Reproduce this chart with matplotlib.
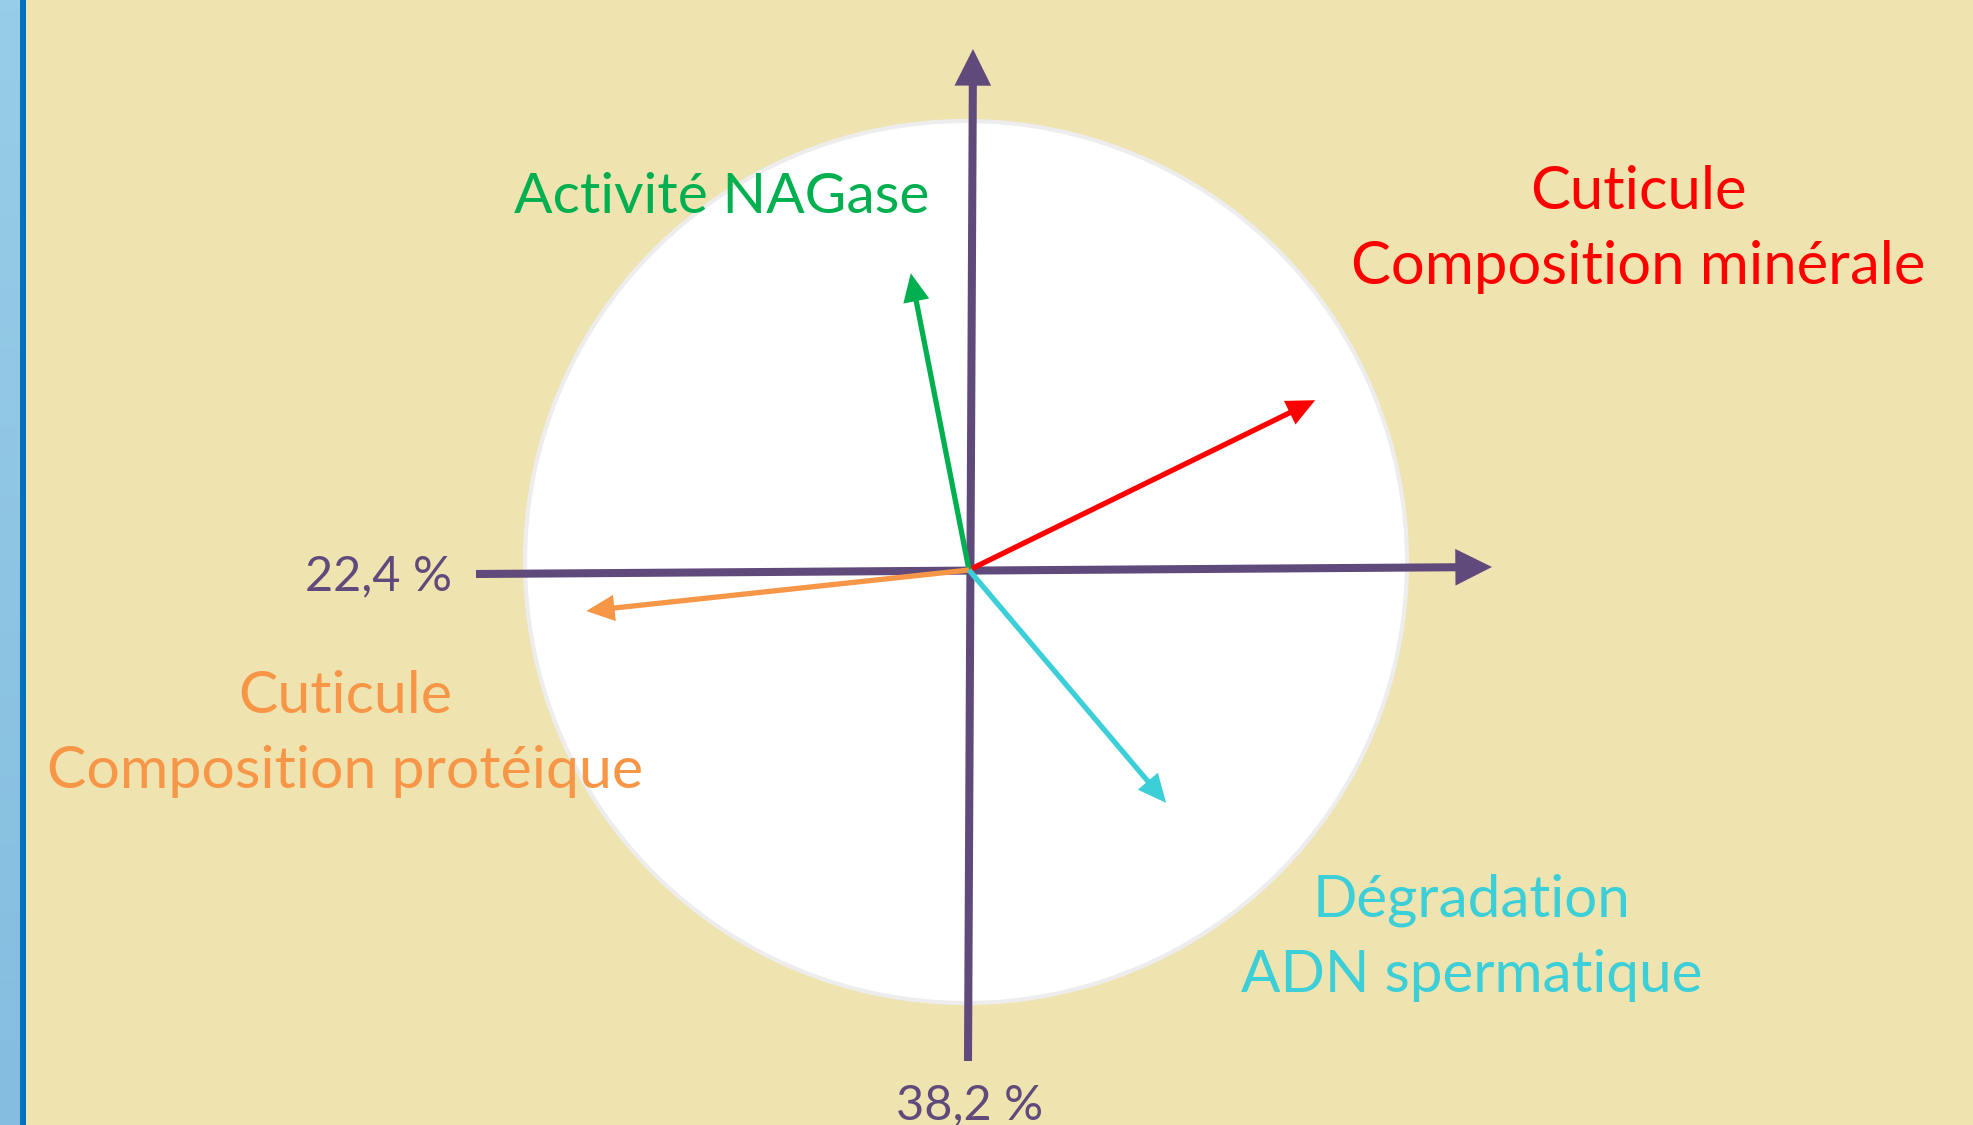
import numpy as np
import matplotlib.pyplot as plt
from matplotlib.patches import Circle, FancyArrowPatch
from matplotlib.colors import LinearSegmentedColormap

plt.rcParams['font.family'] = ['Lato', 'DejaVu Sans']

# -----------------------------
# Data: variable loadings on the correlation circle
# -----------------------------
var_lines = [
    ['Cuticule', 'Composition minérale'],
    ['Activité NAGase'],
    ['Cuticule', 'Composition protéique'],
    ['Dégradation', 'ADN spermatique'],
]
dim_h = [0.785, -0.132, -0.868, 0.447]   # horizontal axis loading
dim_v = [0.385, 0.673, -0.093, -0.528]   # vertical axis loading
var_colors = ['#FF0000', '#00B050', '#F79646', '#3CCFD8']

axis_labels = ['22,4 %', '38,2 %']

# -----------------------------
# Layout (pixels of the 1973x1125 image)
# -----------------------------
W, H = 1973, 1125
CX, CY, R = 969, 570, 441


def px(x, y):
    return (x - CX) / R, (CY - y) / R


bg = '#EFE3B0'
purple = '#604A7B'

fig = plt.figure(figsize=(W / 100, H / 100), dpi=100)
fig.patch.set_facecolor(bg)
ax = fig.add_axes([0, 0, 1, 1])
ax.set_facecolor(bg)
ax.axis('off')

# left blue border
grad = np.linspace(0, 1, 100).reshape(-1, 1)
cm = LinearSegmentedColormap.from_list('b', ['#98CDE7', '#84BDE0'])
x0, y0 = px(0, 0)
x1, y1 = px(20, H)
ax.imshow(grad, cmap=cm, extent=[x0, x1, y1, y0], aspect='auto', zorder=0)
xa, _ = px(20, 0)
xb, _ = px(25.5, 0)
ax.axvspan(xa, xb, color='#0070C0', zorder=1, lw=0)
ax.set_xlim(px(0, 0)[0], px(W, 0)[0])
ax.set_ylim(px(0, H)[1], px(0, 0)[1])

# correlation circle
ax.add_patch(Circle(px(966, 562), 1.0, facecolor='white', edgecolor='#EDEDED',
                    lw=3, zorder=2))

# axes arrows
for start, end in [(px(476, 574), px(1492, 567)), (px(968, 1061), px(973, 49))]:
    ax.add_patch(FancyArrowPatch(start, end,
                                 arrowstyle='-|>,head_length=17,head_width=8.5',
                                 mutation_scale=1, lw=5.8, color=purple,
                                 shrinkA=0, shrinkB=0, zorder=3,
                                 joinstyle='miter', capstyle='butt'))

# variable arrows
for h, v, c in zip(dim_h, dim_v, var_colors):
    ax.add_patch(FancyArrowPatch((0, 0), (h, v),
                                 arrowstyle='-|>,head_length=14,head_width=6.5',
                                 mutation_scale=1, lw=3.8, color=c,
                                 shrinkA=0, shrinkB=0, zorder=4,
                                 joinstyle='miter', capstyle='butt'))

# variable labels (centre x, first baseline y in pixels, font size)
label_pos = [(1638, 209, 43), (722, 213, 41), (345, 713, 42.5), (1472, 917, 42)]
line_gap = 75
for lines, (lx, ly, fs), c in zip(var_lines, label_pos, var_colors):
    for i, t in enumerate(lines):
        ax.text(*px(lx, ly + i * line_gap), t, color=c, fontsize=fs,
                ha='center', va='baseline', zorder=5)

# axis inertia labels
ax.text(*px(452, 590), axis_labels[0], color=purple, fontsize=35,
        ha='right', va='baseline', zorder=5)
ax.text(*px(970, 1119), axis_labels[1], color=purple, fontsize=35,
        ha='center', va='baseline', zorder=5)

fig.savefig('out.png', dpi=100, facecolor=bg)
